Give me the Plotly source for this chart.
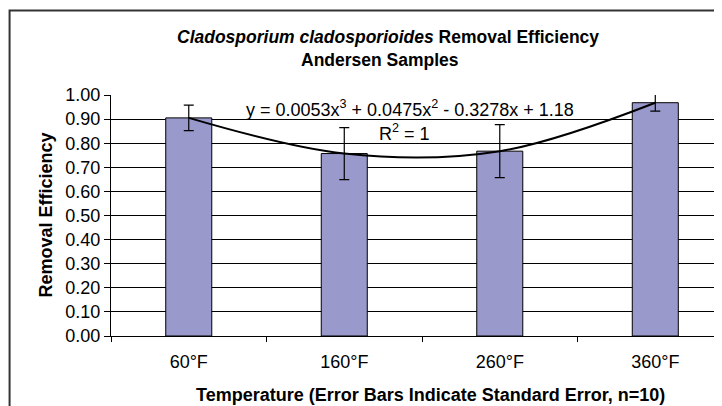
import plotly.graph_objects as go

# Daten
temperatures = ['60°F', '160°F', '260°F', '360°F']
efficiency = [0.905, 0.757, 0.767, 0.968]
std_error = [0.053, 0.108, 0.110, 0.035]
y_ticks = [0.0, 0.1, 0.2, 0.3, 0.4, 0.5, 0.6, 0.7, 0.8, 0.9, 1.0]

FONT = 'Liberation Sans, Arial, sans-serif'

fig = go.Figure()

fig.add_trace(go.Bar(
    x=temperatures,
    y=efficiency,
    marker=dict(color='#9999CC', line=dict(color='#000000', width=1)),
    error_y=dict(type='data', array=std_error, visible=True,
                 color='#000000', thickness=1.2, width=5),
    showlegend=False,
))

# Polynom-Trendlinie (R^2 = 1, geht durch alle Punkte)
fig.add_trace(go.Scatter(
    x=temperatures,
    y=efficiency,
    mode='lines',
    line=dict(color='#000000', width=2, shape='spline', smoothing=1),
    showlegend=False,
    hoverinfo='skip',
))

# Seite hat 8px Body-Rand -> Figur etwas kleiner
fig.update_layout(
    width=714, height=398,
    margin=dict(l=103, r=0, t=87, b=70),
    paper_bgcolor='white',
    plot_bgcolor='white',
    bargap=0.704,
    font=dict(family=FONT, size=18, color='#000000'),
    xaxis=dict(
        type='category',
        range=[-0.5, 3.429],
        showgrid=False,
        showline=True, linecolor='#000000', linewidth=1,
        ticks='outside', tickson='boundaries', ticklen=5,
        tickcolor='#000000',
        tickfont=dict(family=FONT, size=18),
        ticklabelstandoff=9,
        zeroline=False,
    ),
    yaxis=dict(
        range=[0, 1.0],
        tickvals=y_ticks,
        tickformat='.2f',
        showgrid=True, gridcolor='#000000', gridwidth=1,
        showline=True, linecolor='#000000', linewidth=1,
        ticks='outside', ticklen=6, tickcolor='#000000',
        tickfont=dict(family=FONT, size=18),
        zeroline=False,
    ),
)

# Rahmen um das Diagramm (rechts und unten abgeschnitten)
fig.add_shape(type='rect', xref='paper', yref='paper',
              x0=-0.166, x1=1.05, y0=-0.4, y1=1.3506,
              line=dict(color='#333333', width=2), layer='above')

fig.add_annotation(text='<b><i>Cladosporium cladosporioides</i> Removal Efficiency</b>',
                   x=0.4534, y=1.2407, xref='paper', yref='paper',
                   showarrow=False, xanchor='center', yanchor='middle',
                   font=dict(family=FONT, size=17.5))
fig.add_annotation(text='<b>Andersen Samples</b>',
                   x=0.4403, y=1.145, xref='paper', yref='paper',
                   showarrow=False, xanchor='center', yanchor='middle',
                   font=dict(family=FONT, size=17.5))

fig.add_annotation(text='y = 0.0053x<sup>3</sup> + 0.0475x<sup>2</sup> - 0.3278x + 1.18',
                   x=0.489, y=0.946, xref='paper', yref='paper',
                   showarrow=False, xanchor='center', yanchor='middle',
                   font=dict(family=FONT, size=18))
fig.add_annotation(text='R<sup>2</sup> = 1',
                   x=0.481, y=0.846, xref='paper', yref='paper',
                   showarrow=False, xanchor='center', yanchor='middle',
                   font=dict(family=FONT, size=18))

fig.add_annotation(text='<b>Removal Efficiency</b>', textangle=-90,
                   x=-0.108, y=0.5, xref='paper', yref='paper',
                   showarrow=False, xanchor='center', yanchor='middle',
                   font=dict(family=FONT, size=18))
fig.add_annotation(text='<b>Temperature (Error Bars Indicate Standard Error, n=10)</b>',
                   x=0.5237, y=-0.245, xref='paper', yref='paper',
                   showarrow=False, xanchor='center', yanchor='middle',
                   font=dict(family=FONT, size=18))

fig.write_html("out.html")
